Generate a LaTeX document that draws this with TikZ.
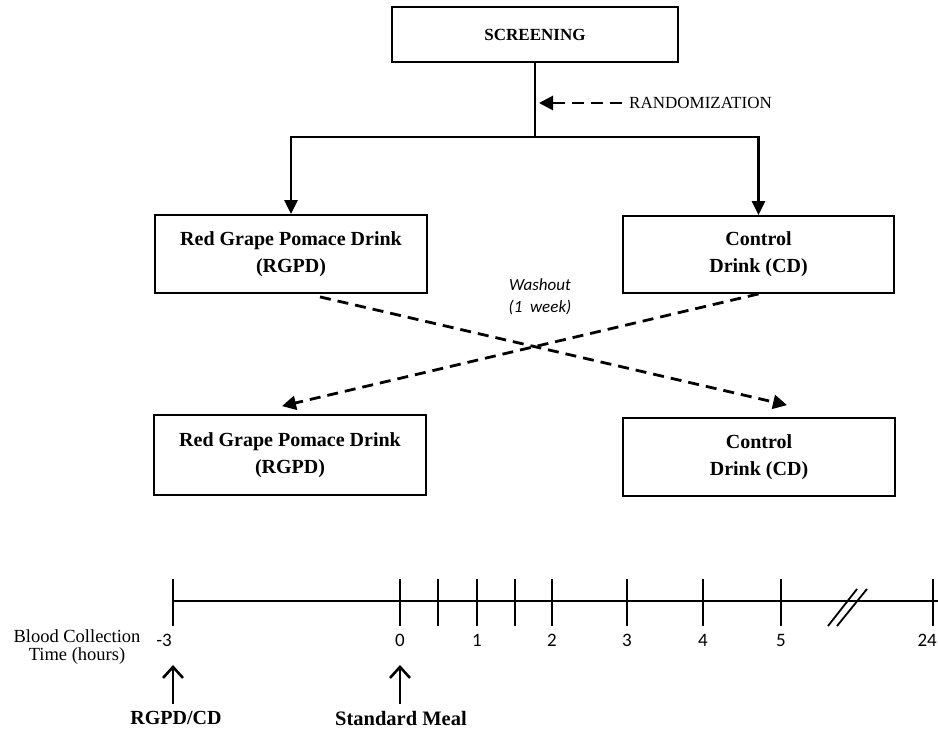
\documentclass[tikz,border=0pt]{standalone}
\usepackage{fontspec}
\setmainfont{Liberation Serif}
\newfontfamily\calfont{Carlito}
\usetikzlibrary{arrows.meta,calc}
\begin{document}
\begin{tikzpicture}[x=1pt,y=-1pt,
  box/.style={draw,line width=1.8pt,inner sep=0pt,align=center,font=\bfseries\fontsize{20}{27}\selectfont},
  solidarr/.style={line width=2.5pt,-{Triangle[length=14pt,width=13pt]}},
  dasharr/.style={line width=2.8pt,dash pattern=on 11pt off 7pt,-{Triangle[length=14pt,width=14pt]}},
  axisline/.style={line width=1.8pt},
  tickline/.style={line width=1.8pt},
  num/.style={font=\calfont\fontsize{19}{22}\selectfont,inner sep=0pt},
  uparr/.style={line width=2.6pt,-{Straight Barb[length=11pt,width=20pt]}}
]
\useasboundingbox (0,0) rectangle (938,729);
\clip (0,0) rectangle (938,729);
\fill[white] (0,0) rectangle (938,729);

% top
\node[box,font=\bfseries\fontsize{17}{20}\selectfont,minimum width=286pt,minimum height=55pt] (scr) at (535,34.5) {SCREENING};
\node[anchor=west,inner sep=0pt,font=\fontsize{17}{20}\selectfont] (rand) at (629,103) {RANDOMIZATION};
\coordinate (randtip) at (539,103);
\draw[dasharr,dash pattern=on 12pt off 7pt] ([xshift=-7pt]rand.west) -- (randtip);

\node[box,minimum width=272pt,minimum height=78pt] (rgpd1) at (291,254) {Red Grape Pomace Drink\\(RGPD)};
\node[box,minimum width=271pt,minimum height=77pt] (cd1) at (758.5,254.5) {Control\\Drink (CD)};
\node[box,minimum width=272pt,minimum height=80pt] (rgpd2) at (290,455) {Red Grape Pomace Drink\\(RGPD)};
\node[box,minimum width=272pt,minimum height=78pt] (cd2) at (759,457) {Control\\Drink (CD)};

\coordinate (split) at (535,137);
\draw[line width=2.5pt] (scr.south) -- (split);
\draw[solidarr] (split) -| (rgpd1.north);
\draw[solidarr] (split) -| (cd1.north);

\draw[dasharr] ([xshift=29pt,yshift=-3pt]rgpd1.south) -- ([xshift=28pt,yshift=12pt]cd2.north);
\draw[dasharr] (cd1.south) -- ([xshift=-8pt,yshift=8pt]rgpd2.north);

\node[font=\calfont\itshape\fontsize{17}{22}\selectfont,align=center] (wash) at (540,297) {Washout\\(1\ \ week)};

% timeline
\coordinate (ax0) at (173,601);
\coordinate (ax1) at (940,601);
\draw[axisline] (ax0) -- (ax1);
\foreach \x in {173,400,438,477,515,552,627,703,781,933}
  \draw[tickline] (\x,579) -- (\x,626);
\draw[tickline] (828,626) -- (857,589);
\draw[tickline] (837,626) -- (867,589);

\node[num] (lm3) at (164,640) {-3};
\foreach \x/\t in {400/0,477/1,552/2,627/3,703/4,781/5}
  \node[num] (l\t) at (\x,640) {\t};
\node[num,anchor=east] (l24) at (937,640) {24};

\node[align=center,inner sep=0pt,font=\fontsize{18.5}{17.5}\selectfont] (bct) at (77,647) {Blood Collection\\Time (hours)};

\node[inner sep=0pt,font=\bfseries\fontsize{20}{24}\selectfont] (rc) at (176,718) {RGPD/CD};
\node[inner sep=0pt,font=\bfseries\fontsize{20.5}{24}\selectfont] (sm) at (401,718) {Standard Meal};

\coordinate (a1s) at (173,704);
\coordinate (a1e) at (173,665);
\coordinate (a2s) at (400,704);
\coordinate (a2e) at (400,665);
\draw[uparr] (a1s) -- (a1e);
\draw[uparr] (a2s) -- (a2e);
\end{tikzpicture}
\end{document}
